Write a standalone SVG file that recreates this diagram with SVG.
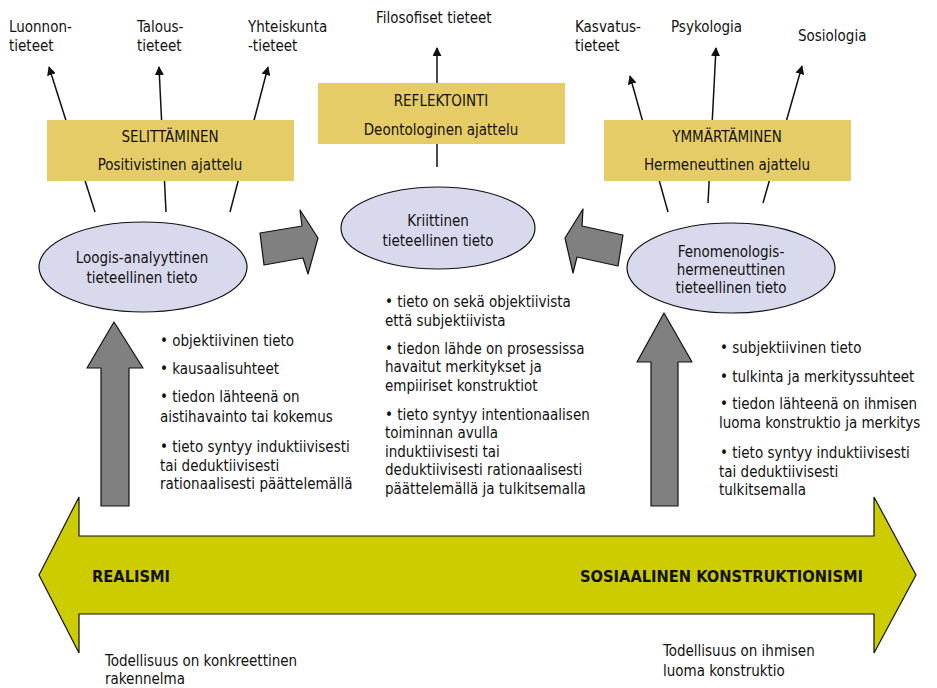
<svg xmlns="http://www.w3.org/2000/svg" width="937" height="688" viewBox="0 0 937 688">
  <style>
    text { font-family: "DejaVu Sans Condensed", "DejaVu Sans", sans-serif; font-size: 15px; fill: #111; }
    .mid { text-anchor: middle; }
    .bold { font-weight: bold; font-size: 15.5px; }
    .box { fill: #E6CC66; }
    .oval { fill: #D9D9ED; stroke: #111; stroke-width: 1.2; }
    .block { fill: #808080; stroke: #111; stroke-width: 1.2; stroke-linejoin: round; }
    .link { stroke: #111; stroke-width: 1.5; fill: none; }
  </style>
  <defs>
    <marker id="tip" viewBox="0 0 10 10" refX="9" refY="5" markerWidth="9" markerHeight="9" markerUnits="userSpaceOnUse" orient="auto">
      <path d="M0,0 L10,5 L0,10 z" fill="#111"/>
    </marker>
  </defs>

  <!-- realism / constructionism axis -->
  <g id="axis">
    <polygon points="39,575 79,497 79,536 874,536 874,497 916,575 874,653 874,614 79,614 79,653" fill="#CCCC00" stroke="#111" stroke-width="1.2"/>
    <text class="bold" x="92" y="582" textLength="78" lengthAdjust="spacingAndGlyphs">REALISMI</text>
    <text class="bold" x="580" y="582" textLength="283" lengthAdjust="spacingAndGlyphs">SOSIAALINEN KONSTRUKTIONISMI</text>
  </g>

  <!-- connectors: thin arrows to the sciences -->
  <g id="connectors">
    <line class="link" x1="95" y1="212" x2="49" y2="67" marker-end="url(#tip)"/>
    <line class="link" x1="166" y1="212" x2="159" y2="67" marker-end="url(#tip)"/>
    <line class="link" x1="230" y1="212" x2="268" y2="67" marker-end="url(#tip)"/>
    <line class="link" x1="437" y1="167" x2="437" y2="48" marker-end="url(#tip)"/>
    <line class="link" x1="668" y1="212" x2="630" y2="76" marker-end="url(#tip)"/>
    <line class="link" x1="708" y1="203" x2="716" y2="48" marker-end="url(#tip)"/>
    <line class="link" x1="763" y1="203" x2="802" y2="66" marker-end="url(#tip)"/>
  </g>

  <!-- sciences -->
  <g id="sciences">
    <text x="9" y="32">Luonnon-</text>
    <text x="9" y="51">tieteet</text>
    <text x="137" y="32">Talous-</text>
    <text x="137" y="51">tieteet</text>
    <text x="248" y="32">Yhteiskunta</text>
    <text x="248" y="51">-tieteet</text>
    <text x="376" y="23">Filosofiset tieteet</text>
    <text x="575" y="32">Kasvatus-</text>
    <text x="575" y="51">tieteet</text>
    <text x="671" y="32">Psykologia</text>
    <text x="798" y="41">Sosiologia</text>
  </g>

  <!-- ways of thinking -->
  <g id="selittaminen">
    <rect class="box" x="47" y="120" width="247" height="61"/>
    <text class="mid" x="170" y="142">SELITTÄMINEN</text>
    <text class="mid" x="170" y="170">Positivistinen ajattelu</text>
  </g>
  <g id="reflektointi">
    <rect class="box" x="318" y="83" width="247" height="61"/>
    <text class="mid" x="441" y="106">REFLEKTOINTI</text>
    <text class="mid" x="441" y="135">Deontologinen ajattelu</text>
  </g>
  <g id="ymmartaminen">
    <rect class="box" x="604" y="120" width="247" height="61"/>
    <text class="mid" x="727" y="142">YMMÄRTÄMINEN</text>
    <text class="mid" x="727" y="170">Hermeneuttinen ajattelu</text>
  </g>

  <!-- kinds of knowledge -->
  <g id="loogis-analyyttinen">
    <ellipse class="oval" cx="143" cy="267" rx="104" ry="45"/>
    <text class="mid" x="142" y="263">Loogis-analyyttinen</text>
    <text class="mid" x="142" y="283">tieteellinen tieto</text>
  </g>
  <g id="kriittinen">
    <ellipse class="oval" cx="438" cy="228" rx="97" ry="41"/>
    <text class="mid" x="438" y="226">Kriittinen</text>
    <text class="mid" x="438" y="246">tieteellinen tieto</text>
  </g>
  <g id="fenomenologis-hermeneuttinen">
    <ellipse class="oval" cx="731" cy="268" rx="104" ry="45"/>
    <text class="mid" x="731" y="257">Fenomenologis-</text>
    <text class="mid" x="731" y="275">hermeneuttinen</text>
    <text class="mid" x="731" y="293">tieteellinen tieto</text>
  </g>

  <!-- block arrows -->
  <g id="block-arrows">
    <polygon class="block" points="260,233 302,226 300,210 318,238 308,274 303,258 264,265"/>
    <polygon class="block" points="565,238 583,209 582,226 623,235 618,266 577,257 573,273"/>
    <polygon class="block" points="114,322 143,368 129,368 129,506 101,506 101,368 87,368"/>
    <polygon class="block" points="664,313 692,362 678,362 678,506 651,506 651,362 637,362"/>
  </g>

  <!-- characteristics -->
  <g id="left-list">
    <text x="160" y="346">• objektiivinen tieto</text>
    <text x="160" y="374">• kausaalisuhteet</text>
    <text x="160" y="402">• tiedon lähteenä on</text>
    <text x="160" y="422">aistihavainto tai kokemus</text>
    <text x="160" y="452">• tieto syntyy induktiivisesti</text>
    <text x="160" y="471">tai deduktiivisesti</text>
    <text x="160" y="489">rationaalisesti päättelemällä</text>
  </g>
  <g id="center-list">
    <text x="385" y="307">• tieto on sekä objektiivista</text>
    <text x="385" y="326">että subjektiivista</text>
    <text x="385" y="354">• tiedon lähde on prosessissa</text>
    <text x="385" y="372">havaitut merkitykset ja</text>
    <text x="385" y="391">empiiriset konstruktiot</text>
    <text x="385" y="420">• tieto syntyy intentionaalisen</text>
    <text x="385" y="438">toiminnan avulla</text>
    <text x="385" y="457">induktiivisesti tai</text>
    <text x="385" y="475">deduktiivisesti rationaalisesti</text>
    <text x="385" y="494">päättelemällä ja tulkitsemalla</text>
  </g>
  <g id="right-list">
    <text x="720" y="353">• subjektiivinen tieto</text>
    <text x="720" y="382">• tulkinta ja merkityssuhteet</text>
    <text x="720" y="409">• tiedon lähteenä on ihmisen</text>
    <text x="719" y="428">luoma konstruktio ja merkitys</text>
    <text x="720" y="458">• tieto syntyy induktiivisesti</text>
    <text x="719" y="477">tai deduktiivisesti</text>
    <text x="719" y="495">tulkitsemalla</text>
  </g>

  <!-- notions of reality -->
  <g id="reality-notes">
    <text x="105" y="666">Todellisuus on konkreettinen</text>
    <text x="105" y="684">rakennelma</text>
    <text x="663" y="656">Todellisuus on ihmisen</text>
    <text x="663" y="676">luoma konstruktio</text>
  </g>
</svg>
